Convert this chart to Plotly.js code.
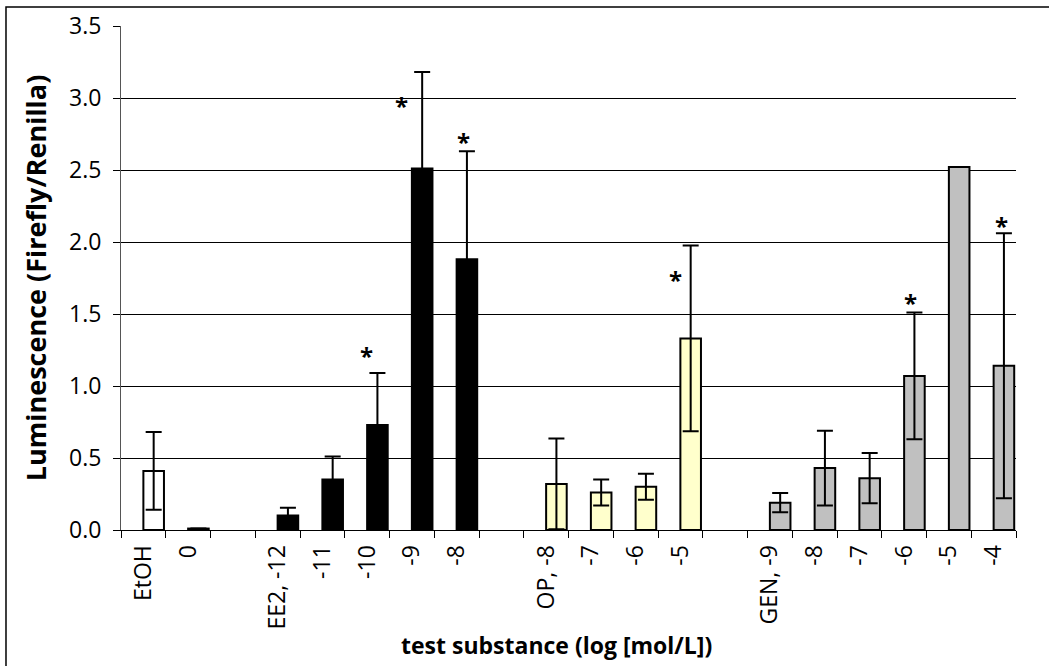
<!DOCTYPE html>
<html>
<head>
<meta charset="utf-8">
<script src="https://cdn.plot.ly/plotly-3.0.1.min.js"></script>
<style>
  html, body { margin: 0; padding: 0; background: #ffffff; }
  #chart { width: 1049px; height: 666px; }
</style>
</head>
<body>
<div id="chart"></div>
<script>
// ---- data ----
var labels = ['EtOH', '0', '', 'EE2, -12', '-11', '-10', '-9', '-8', '', 'OP, -8', '-7', '-6', '-5', '', 'GEN, -9', '-8', '-7', '-6', '-5', '-4'];
var groups = ['ctrl', 'ctrl', null, 'EE2', 'EE2', 'EE2', 'EE2', 'EE2', null, 'OP', 'OP', 'OP', 'OP', null, 'GEN', 'GEN', 'GEN', 'GEN', 'GEN', 'GEN'];
var means  = [0.41, 0.01, null, 0.10, 0.35, 0.73, 2.51, 1.88, null, 0.32, 0.26, 0.30, 1.33, null, 0.19, 0.43, 0.36, 1.07, 2.52, 1.14];
var errs   = [0.27, 0.0, null, 0.055, 0.16, 0.36, 0.67, 0.75, null, 0.315, 0.09, 0.09, 0.645, null, 0.067, 0.26, 0.175, 0.44, 0.0, 0.92];
var significant = [false, false, false, false, false, true, true, true, false, false, false, false, true, false, false, false, false, true, false, true];
var yTicks = [0, 0.5, 1.0, 1.5, 2.0, 2.5, 3.0, 3.5];
var xTitle = 'test substance (log [mol/L])';
var yTitle = 'Luminescence (Firefly/Renilla)';

// ---- styles ----
var groupColors = { ctrl: '#FFFFFF', EE2: '#000000', OP: '#FFFFCC', GEN: '#C0C0C0' };
// hand-placed asterisk offsets (px) relative to the top of each error bar
var starShift = { 5: [-11, 18], 6: [-20, -33], 7: [-3, 10], 12: [-15, -34], 17: [-4, 10], 19: [-2, 8] };
var FONT = 'Open Sans, Noto Sans, DejaVu Sans, sans-serif';
var BAR_W = 0.46;

var xs = [], ys = [], es = [], cols = [];
for (var i = 0; i < labels.length; i++) {
  if (means[i] === null) continue;
  xs.push(i); ys.push(means[i]); es.push(errs[i]); cols.push(groupColors[groups[i]]);
}
var tickIdx = [], tickTxt = [], boundaries = [];
for (var j = 0; j < labels.length; j++) {
  if (labels[j] !== '') { tickIdx.push(j); tickTxt.push(labels[j]); }
  boundaries.push(j - 0.5);
}
boundaries.push(labels.length - 0.5);

var annotations = [];
for (var k = 0; k < labels.length; k++) {
  if (!significant[k]) continue;
  var sh = starShift[k] || [0, 8];
  annotations.push({
    x: k, y: means[k] + errs[k], xref: 'x', yref: 'y',
    text: '*', showarrow: false,
    xshift: 10 + sh[0], yshift: sh[1],
    font: { family: FONT, size: 24, color: '#000000', weight: 'bold' }
  });
}
annotations.push({
  text: '<b>' + xTitle + '</b>', xref: 'paper', yref: 'paper', x: 0.487, y: -0.228,
  xanchor: 'center', yanchor: 'middle', showarrow: false,
  font: { family: FONT, size: 23, color: '#000000' }
});

var traces = [
  {
    type: 'bar', x: xs, y: ys, width: BAR_W, offset: 0,
    marker: { color: cols, line: { color: '#000000', width: 2 } },
    error_y: { type: 'data', array: es, visible: true, color: '#000000', thickness: 2, width: 8 },
    hoverinfo: 'skip', showlegend: false
  },
  {
    // invisible helper trace to carry the boundary tick axis
    type: 'scatter', x: [-0.5, labels.length - 0.5], y: [0, 0], xaxis: 'x2',
    mode: 'markers', marker: { opacity: 0 }, hoverinfo: 'skip', showlegend: false
  }
];

var layout = {
  width: 1049, height: 666,
  margin: { l: 121, r: 33, t: 26, b: 136 },
  paper_bgcolor: '#ffffff', plot_bgcolor: '#ffffff',
  font: { family: FONT, color: '#000000' },
  bargap: 0,
  xaxis: {
    range: [-0.5, labels.length - 0.5],
    tickmode: 'array', tickvals: tickIdx, ticktext: tickTxt,
    tickangle: -90, ticks: '', showgrid: false, zeroline: false,
    showline: true, linecolor: '#000000', linewidth: 1,
    tickfont: { family: FONT, size: 23, color: '#000000' },
    ticklabelstandoff: 5,
    fixedrange: true
  },
  xaxis2: {
    overlaying: 'x', side: 'bottom', anchor: 'y',
    range: [-0.5, labels.length - 0.5],
    tickmode: 'array', tickvals: boundaries, ticks: 'outside', ticklen: 7, tickwidth: 1, tickcolor: '#000000',
    showticklabels: false, showgrid: false, zeroline: false, showline: false
  },
  yaxis: {
    range: [0, 3.5], tickmode: 'array', tickvals: yTicks,
    tickformat: '.1f',
    ticks: 'outside', ticklen: 7, tickwidth: 1, tickcolor: '#000000',
    showgrid: true, gridcolor: '#000000', gridwidth: 1,
    showline: true, linecolor: '#555555', linewidth: 1, zeroline: false,
    tickfont: { family: FONT, size: 23, color: '#000000' },
    ticklabelstandoff: 7,
    title: { text: '<b>' + yTitle + '</b>', font: { family: FONT, size: 27, color: '#000000' }, standoff: 14 },
    fixedrange: true
  },
  annotations: annotations,
  shapes: [
    { type: 'rect', xref: 'paper', yref: 'paper', x0: -0.1285, x1: 1.2, y0: -0.4, y1: 1.0377,
      line: { color: '#000000', width: 1.5 }, fillcolor: 'rgba(0,0,0,0)', layer: 'above' }
  ]
};

Plotly.newPlot('chart', traces, layout, { staticPlot: true, displayModeBar: false });
</script>
</body>
</html>
